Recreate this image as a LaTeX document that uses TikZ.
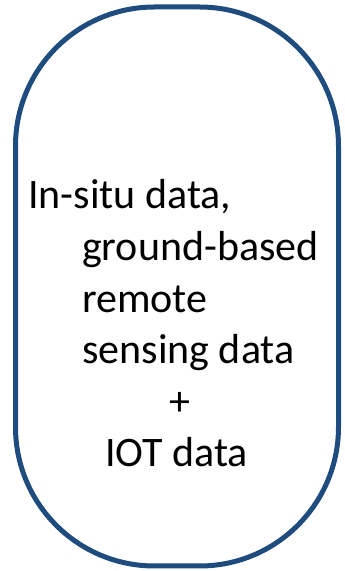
\documentclass[tikz,border=0pt]{standalone}
\usepackage{fontspec}
\setmainfont{Carlito}
\usetikzlibrary{positioning}

\definecolor{frameblue}{RGB}{31,76,126}

\begin{document}
\begin{tikzpicture}[x=1pt,y=1pt]
\useasboundingbox (0,0) rectangle (345,571);
\tikzset{txt/.style={font=\fontsize{42}{51}\selectfont, inner sep=0pt, anchor=base west}}
% outer frame
\node[draw=frameblue, line width=5pt, rounded corners=139pt, minimum width=323pt, minimum height=559pt, inner sep=0pt] (box) at (177,284.5) {};
% text lines
\node[txt] (insitu) at (28,362) {In-situ data,};
\node[txt] (ground) at (82,310.4) {ground-based};
\node[txt] (remote) at (82,258.8) {remote};
\node[txt] (sensing) at (82,207.2) {sensing data};
\node[txt, anchor=base] (plus) at (180,155.6) {+};
\node[txt] (iot) at (105,104) {IOT data};
\end{tikzpicture}
\end{document}
